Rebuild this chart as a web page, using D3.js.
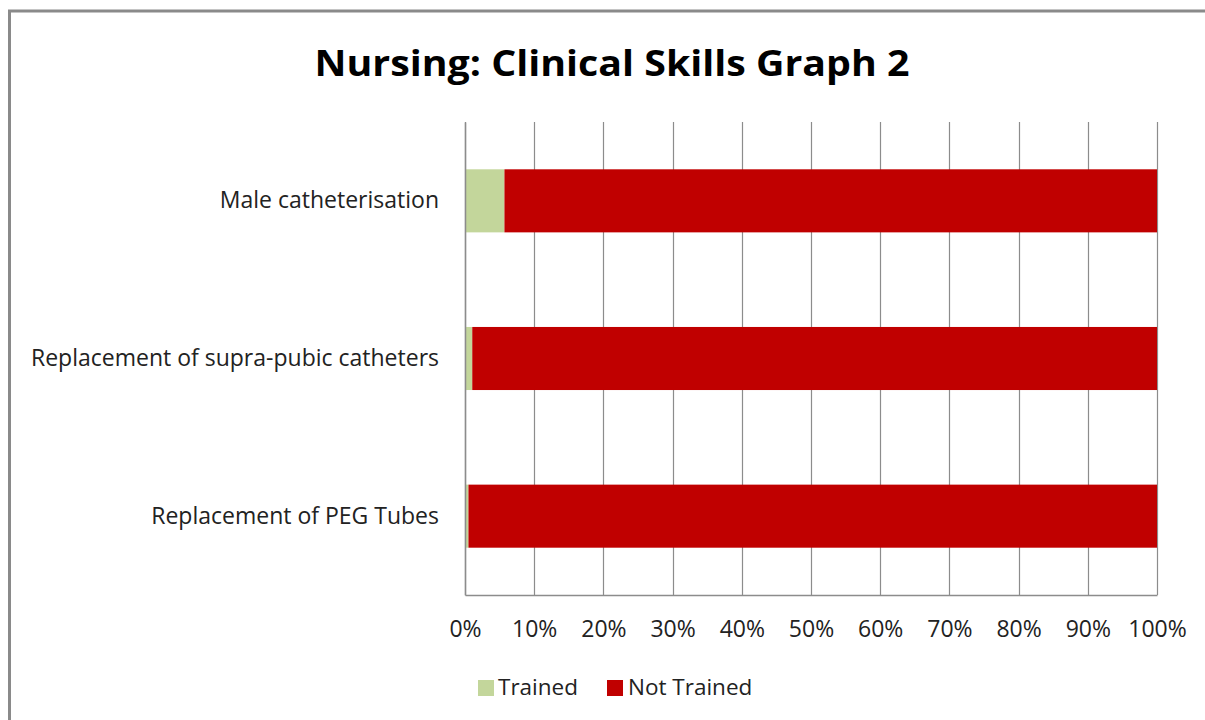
<!DOCTYPE html>
<html>
<head>
<meta charset="utf-8">
<script src="https://cdn.jsdelivr.net/npm/d3@7"></script>
<style>
  html, body { margin: 0; padding: 0; background: #fff; overflow: hidden; }
  svg { display: block; font-family: "Open Sans", Lato, sans-serif; }
</style>
</head>
<body>
<div id="chart"></div>
<script>
const categories = ['Male catheterisation', 'Replacement of supra-pubic catheters', 'Replacement of PEG Tubes'];
const trained = [5.7, 1.05, 0.5];
const notTrained = [94.3, 98.95, 99.5];
const seriesNames = ['Trained', 'Not Trained'];
const seriesColors = ['#c3d69b', '#c00000'];
const tickValues = [0, 10, 20, 30, 40, 50, 60, 70, 80, 90, 100];

const width = 1205, height = 720;
const margin = { top: 122, right: 48, bottom: 125, left: 465 };
const innerWidth = width - margin.left - margin.right;
const innerHeight = height - margin.top - margin.bottom;

const svg = d3.select('#chart').append('svg')
  .attr('width', width)
  .attr('height', height);

// outer chart border, its right and bottom edges are outside the window
svg.append('path')
  .attr('d', `M9.5,${height} V11 H${width}`)
  .attr('fill', 'none')
  .attr('stroke', '#8a8a8a')
  .attr('stroke-width', 3);

svg.append('text')
  .attr('x', 612).attr('y', 76)
  .attr('text-anchor', 'middle')
  .attr('font-size', 36)
  .attr('font-weight', 'bold')
  .attr('fill', '#000')
  .attr('textLength', 595)
  .attr('lengthAdjust', 'spacingAndGlyphs')
  .text('Nursing: Clinical Skills Graph 2');

const g = svg.append('g').attr('transform', `translate(${margin.left},${margin.top})`);

const x = d3.scaleLinear().domain([0, 100]).range([0, innerWidth]);
const y = d3.scaleBand().domain(categories).range([0, innerHeight])
  .paddingInner(0.6).paddingOuter(0.3);

// vertical gridlines
g.append('g')
  .selectAll('line')
  .data(tickValues)
  .join('line')
  .attr('x1', d => Math.round(x(d)) + 0.5)
  .attr('x2', d => Math.round(x(d)) + 0.5)
  .attr('y1', 0).attr('y2', innerHeight)
  .attr('stroke', '#8c8c8c')
  .attr('stroke-width', 1.2);

const stacked = categories.map((c, i) => ({ cat: c, vals: [trained[i], notTrained[i]] }));

stacked.forEach(d => {
  let acc = 0;
  d.vals.forEach((v, si) => {
    g.append('rect')
      .attr('x', x(acc))
      .attr('y', y(d.cat))
      .attr('width', x(acc + v) - x(acc))
      .attr('height', y.bandwidth())
      .attr('fill', seriesColors[si]);
    acc += v;
  });
});

// bottom axis
const xAxis = g.append('g')
  .attr('transform', `translate(0,${innerHeight})`)
  .call(d3.axisBottom(x).tickValues(tickValues).tickSize(0).tickPadding(26).tickFormat(d => d + '%'));
xAxis.attr('font-family', null).attr('font-size', 23);
xAxis.select('.domain').attr('stroke', '#8c8c8c').attr('stroke-width', 1.5);
xAxis.selectAll('text').attr('fill', '#222');

// left axis
const yAxis = g.append('g')
  .call(d3.axisLeft(y).tickSize(0).tickPadding(26));
yAxis.attr('font-family', null).attr('font-size', 23);
yAxis.select('.domain').attr('stroke', '#8c8c8c').attr('stroke-width', 1.5);
yAxis.selectAll('text').attr('fill', '#222');

// legend
const legendItems = [{ x: 478, tx: 498 }, { x: 607, tx: 628 }];
const legend = svg.append('g');
seriesNames.forEach((name, i) => {
  legend.append('rect')
    .attr('x', legendItems[i].x).attr('y', 680)
    .attr('width', 16).attr('height', 16)
    .attr('fill', seriesColors[i]);
  legend.append('text')
    .attr('x', legendItems[i].tx).attr('y', 695)
    .attr('font-size', 22.5).attr('fill', '#222')
    .text(name);
});
</script>
</body>
</html>
